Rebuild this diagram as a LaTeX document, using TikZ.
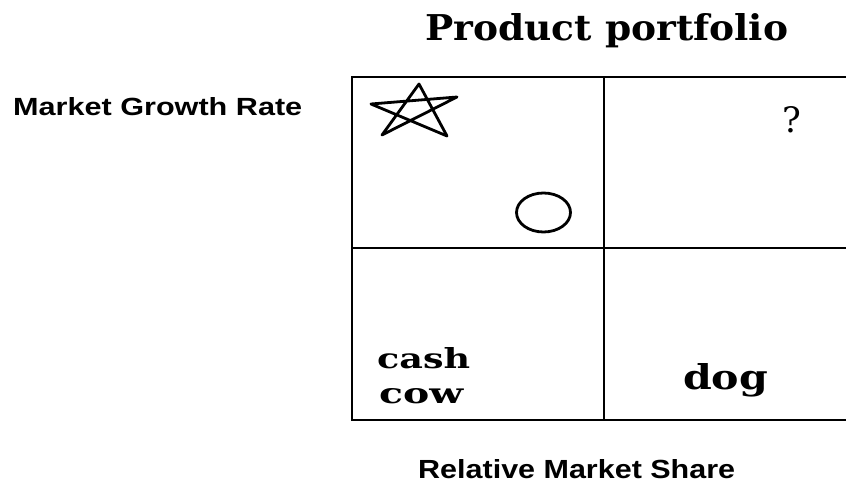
\documentclass[tikz,border=0pt]{standalone}
\usepackage{fontspec}
\newfontfamily\serifA{DejaVu Serif}
\newfontfamily\sansA{Liberation Sans}
\begin{document}
\begin{tikzpicture}[x=1pt,y=-1pt,
  gridline/.style={line width=1.6pt},
  shapeline/.style={line width=2.8pt, line join=round},
  txt/.style={inner sep=0pt, anchor=base west}]
\useasboundingbox (0,0) rectangle (846,486);
\fill[white] (0,0) rectangle (846,486);
% grid corners
\coordinate (tl) at (352,77);
\coordinate (tr) at (846,77);
\coordinate (bl) at (352,420);
\coordinate (br) at (846,420);
\coordinate (tm) at (604,77);
\coordinate (bm) at (604,420);
\coordinate (ml) at (352,248);
\coordinate (mr) at (846,248);
\draw[gridline] (tr) -- (tl) -- (bl) -- (br);
\draw[gridline] (tm) -- (bm);
\draw[gridline] (ml) -- (mr);
% star
\coordinate (s1) at (419,84);
\coordinate (s2) at (382,135);
\coordinate (s3) at (457,97);
\coordinate (s4) at (371,104);
\coordinate (s5) at (447,136);
\draw[shapeline] (s1) -- (s2) -- (s3) -- (s4) -- (s5) -- cycle;
% circle
\coordinate (cc) at (543.5,212.5);
\draw[shapeline] (cc) ellipse [x radius=27, y radius=19.5];
% texts
\node[txt] (title) at (425,41) {\resizebox{363pt}{27pt}{\serifA\bfseries Product portfolio}};
\node[txt] (mgr) at (13,116) {\resizebox{289pt}{18pt}{\sansA\bfseries Market Growth Rate}};
\node[txt] (rms) at (418,478) {\resizebox{317pt}{19pt}{\sansA\bfseries Relative Market Share}};
\node[txt] (cash) at (377,368) {\resizebox{93pt}{21pt}{\serifA\bfseries cash}};
\node[txt] (cow) at (379,403) {\resizebox{84pt}{15pt}{\serifA\bfseries cow}};
\node[txt] (dog) at (683,389) {\resizebox{85pt}{26pt}{\serifA\bfseries dog}};
\node[txt] (q) at (782,133) {\resizebox{!}{26pt}{\serifA ?}};
\end{tikzpicture}
\end{document}
